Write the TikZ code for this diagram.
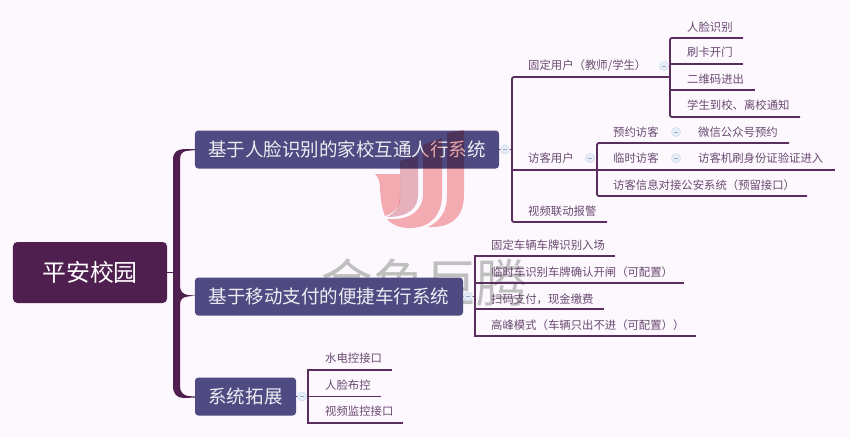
\documentclass[tikz,border=0pt]{standalone}
\usepackage{fontspec}
\setmainfont{Noto Sans CJK SC}
\usetikzlibrary{positioning}
\definecolor{bgcol}{HTML}{FCF8FE}
\definecolor{rootcol}{HTML}{4F1F4F}
\definecolor{boxcol}{HTML}{504A82}
\definecolor{linecol}{HTML}{5A2F60}
\definecolor{leafcol}{HTML}{6A4A70}
\definecolor{foldcol}{HTML}{E6EDF8}
\definecolor{foldline}{HTML}{C6D6EE}
\definecolor{logocol}{HTML}{F6B0B2}
\definecolor{logomid}{HTML}{E9B6BE}
\tikzset{root node/.style={draw=none,fill=rootcol,rounded corners=1.3mm,text=white,font=\fontsize{20.4pt}{21pt}\selectfont,minimum width=4.62cm,minimum height=1.83cm,inner sep=0pt},}
\tikzset{main node/.style={draw=none,fill=boxcol,rounded corners=1mm,text=white!90!boxcol,font=\fontsize{15.8pt}{16pt}\selectfont,minimum height=1.14cm,inner sep=0pt},}
\tikzset{fold node/.style={circle,fill=foldcol,draw=foldline,line width=0.4pt,minimum size=0.27cm,inner sep=0pt},}
\tikzstyle{ann} = [anchor=west,text=leafcol,font=\fontsize{9.7pt}{10pt}\selectfont,inner sep=0pt]
\tikzstyle{branch} = [draw=linecol,line width=0.55mm,rounded corners=0.6mm]
\tikzstyle{trunk} = [draw=rootcol,line width=0.35mm,rounded corners=1.5mm]
\newcommand{\foldmark}{\textcolor{foldline!80!black}{\rule[0.2pt]{3pt}{0.4pt}}}
\begin{document}
\begin{tikzpicture}[x=0.03cm,y=-0.03cm]
    \useasboundingbox (0,0) rectangle (850,437);
    \fill[bgcol] (0,0) rectangle (850,437);
    \node[text=gray!50,font=\fontsize{44pt}{44pt}\selectfont,inner sep=0pt] (mark) at (425,283) {金鱼巨腾};

    \node[root node] (root) at (90,272.5) {平安校园};
    \node[main node,minimum width=9.12cm] (sys1) at (347,149.5) {基于人脸识别的家校互通人行系统};
    \node[main node,minimum width=8.04cm] (sys2) at (329,296.5) {基于移动支付的便捷车行系统};
    \node[main node,minimum width=3.03cm] (sys3) at (245.5,396.5) {系统拓展};

    % thick part of the trunk
    \coordinate (hub) at (175,272.5);
    \fill[rootcol] (173,160) .. controls (173,152) and (177,149.5) .. (184,149) -- (195,149) -- (195,150) -- (186,151)
        .. controls (182,152) and (180,154) .. (180,160) -- (180,285) .. controls (180,292) and (183,294) .. (188,295) -- (195,295.5)
        -- (188,296.5) .. controls (183,297) and (180,299) .. (180,305) -- (180,386) .. controls (180,392) and (183,395) .. (188,396) -- (195,396.5) -- (195,397.5) -- (184,398)
        .. controls (177,398) and (173,394) .. (173,386) -- cycle;
    \draw[trunk] (root.east |- hub) -- (hub);

    % first system
    \node[ann] (fixed) at (528,66) {固定用户（教师/学生）};
    \node[ann] (guest) at (528,158) {访客用户};
    \node[ann] (video) at (528,211) {视频联动报警};
    \node[ann] (face) at (687,27) {人脸识别};
    \node[ann] (card) at (687,52.5) {刷卡开门};
    \node[ann] (qr) at (687,79) {二维码进出};
    \node[ann] (notify) at (687,105.5) {学生到校、离校通知};
    \node[ann] (book) at (613,132) {预约访客};
    \node[ann] (temp) at (613,158) {临时访客};
    \node[ann] (police) at (613,185) {访客信息对接公安系统（预留接口）};
    \node[ann] (wechat) at (698,132) {微信公众号预约};
    \node[ann] (idcard) at (698,158) {访客机刷身份证验证进入};
    \coordinate (j1) at (512,149.5);
    \coordinate (j2) at (670,77);
    \coordinate (j3) at (597,170);
    \coordinate (e1) at (743,38);
    \coordinate (e2) at (743,64);
    \coordinate (e3) at (755,90);
    \coordinate (e4) at (800,117);
    \coordinate (e5) at (789,143);
    \coordinate (e6) at (835,170);
    \coordinate (e7) at (807,196);
    \coordinate (e8) at (607,222);
    \draw[branch] (sys1.east) -- (j1);
    \draw[branch] (j2) -| (j1) |- (e8);
    \draw[branch] (j1 |- j3) -- (e6);
    \draw[branch] (e1) -| (j2) |- (e4);
    \draw[branch] (j2 |- e2) -- (e2);
    \draw[branch] (j2 |- e3) -- (e3);
    \draw[branch] (e5) -| (j3) |- (e7);
    \node[fold node] (f1) at (505,149.5) {\foldmark};
    \node[fold node] (f2) at (664,66) {\foldmark};
    \node[fold node] (f3) at (590,158) {\foldmark};
    \node[fold node] (f4) at (676,132) {\foldmark};
    \node[fold node] (f5) at (676,158) {\foldmark};

    % second system
    \node[ann] (plate) at (491,245) {固定车辆车牌识别入场};
    \node[ann] (gate) at (491,272) {临时车识别车牌确认开闸（可配置）};
    \node[ann] (pay) at (491,299) {扫码支付，现金缴费};
    \node[ann] (peak) at (491,325) {高峰模式（车辆只出不进（可配置））};
    \coordinate (j4) at (475,296.5);
    \coordinate (e9) at (615,256);
    \coordinate (e10) at (684,283);
    \coordinate (e11) at (604,309);
    \coordinate (e12) at (696,336);
    \draw[branch] (sys2.east) -- (j4);
    \draw[branch,rounded corners=0pt] (e9) -| (j4) |- (e12);
    \draw[branch] (j4 |- e10) -- (e10);
    \draw[branch] (j4 |- e11) -- (e11);
    \node[fold node] (f6) at (468,296.5) {\foldmark};

    % third system
    \node[ann] (water) at (325,358) {水电控接口};
    \node[ann] (watch) at (325,385) {人脸布控};
    \node[ann] (cam) at (325,411) {视频监控接口};
    \coordinate (j5) at (308,396.5);
    \coordinate (e13) at (392,370);
    \coordinate (e14) at (381,396.5);
    \coordinate (e15) at (403,423);
    \draw[branch] (sys3.east) -- (j5);
    \draw[branch,rounded corners=0pt] (e13) -| (j5) |- (e15);
    \draw[branch] (j5) -- (e14);
    \node[fold node] (f7) at (302,396.5) {\foldmark};

    % logo on top of everything
    \begin{scope}[blend mode=multiply]
        \fill[logocol] (375,174) -- (400,174) -- (400,201) .. controls (398,209) and (392,214) .. (385,216)
            .. controls (381,206) and (381,198) .. (380,190) .. controls (380,182) and (379,178) .. (375,174) -- cycle;
        \fill[logomid] (400,161) -- (418,156) -- (418,195) .. controls (418,207) and (410,217) .. (387,217)
            .. controls (396,213) and (400,205) .. (400,195) -- cycle;
        \fill[logocol] (387,219) .. controls (412,221) and (423,208) .. (423,195) -- (423,145) -- (442,138) -- (442,195)
            .. controls (442,215) and (430,228) .. (410,228) .. controls (400,228) and (392,225) .. (387,219) -- cycle;
        \fill[logocol] (447,133) -- (464,130) -- (464,195) .. controls (464,218) and (450,228) .. (428,227)
            .. controls (442,220) and (447,210) .. (447,195) -- cycle;
    \end{scope}
\end{tikzpicture}
\end{document}
